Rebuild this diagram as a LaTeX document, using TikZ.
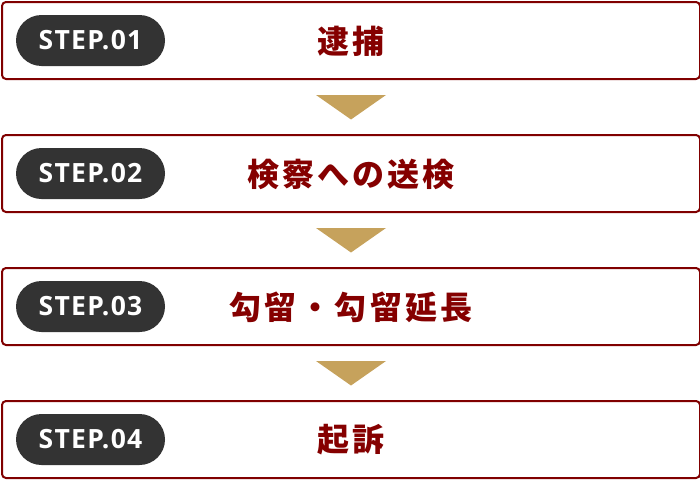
\documentclass[tikz,border=0pt]{standalone}
\usepackage{fontspec}
\usetikzlibrary{calc}
\newfontfamily\jpfont{Noto Sans CJK JP}[LetterSpace=10]
\newfontfamily\stepfont{Open Sans}[LetterSpace=5]
\definecolor{boxred}{HTML}{800000}
\definecolor{textred}{HTML}{850000}
\definecolor{pillgray}{HTML}{333333}
\definecolor{gold}{HTML}{C6A25C}
\begin{document}
\begin{tikzpicture}[x=1pt,y=-1pt,
  stepbox/.style={draw=boxred, line width=2pt, rounded corners=4pt, fill=white,
    minimum width=698pt, minimum height=77pt, inner sep=0pt, anchor=north west},
  pill/.style={fill=pillgray, rounded corners=25.5pt, minimum width=149pt,
    minimum height=51pt, inner sep=0pt, text=white,
    font=\stepfont\bfseries\fontsize{26.5}{26.5}\selectfont},
  title/.style={text=textred, inner sep=0pt,
    font=\jpfont\bfseries\fontsize{32}{32}\selectfont},
  tri/.style={fill=gold}]
\useasboundingbox (0,0) rectangle (700,479);
\foreach \i/\y/\t in {1/1/逮捕, 2/134/検察への送検, 3/267/勾留・勾留延長, 4/400/起訴}{
  \node[stepbox] (b\i) at (1,\y) {};
  \node[pill] (p\i) at (90.5,\y+39.5) {STEP.0\i};
  \node[title] (t\i) at (351,\y+40) {\t};
}
\foreach \i in {1,2,3}{
  \fill[tri] ($(b\i.south)+(-35,15)$) -- ($(b\i.south)+(35,15)$) -- ($(b\i.south)+(0,39.5)$) -- cycle;
}
\end{tikzpicture}
\end{document}
